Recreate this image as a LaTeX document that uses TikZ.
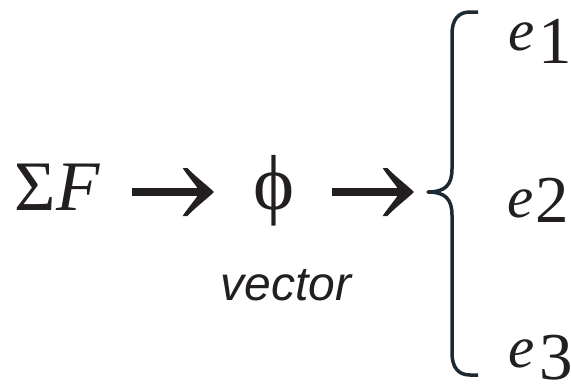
\documentclass[tikz,border=0pt]{standalone}
\usepackage{fontspec}
\setmainfont{Liberation Serif}
\newfontfamily\vecfont{Liberation Sans}
\usetikzlibrary{arrows.meta}
\definecolor{ink}{HTML}{231F20}
\definecolor{bracecol}{HTML}{1E2A33}
\pgfdeclarearrow{
  name=Swept,
  setup code={
    \pgfarrowssettipend{0pt}
    \pgfarrowssetbackend{-31.3pt}
    \pgfarrowssetlineend{-10pt}
    \pgfarrowssetvisualbackend{-10pt}
    \pgfarrowshullpoint{0pt}{0pt}
    \pgfarrowshullpoint{-31.3pt}{24pt}
    \pgfarrowshullpoint{-31.3pt}{-24pt}
  },
  drawing code={
    \pgfpathmoveto{\pgfpoint{0pt}{0pt}}
    \pgfpathcurveto{\pgfpoint{-9pt}{8.5pt}}{\pgfpoint{-18pt}{15pt}}{\pgfpoint{-26.7pt}{24pt}}
    \pgfpathlineto{\pgfpoint{-31.3pt}{24pt}}
    \pgfpathcurveto{\pgfpoint{-27pt}{17pt}}{\pgfpoint{-18pt}{7pt}}{\pgfpoint{-14pt}{0pt}}
    \pgfpathcurveto{\pgfpoint{-18pt}{-7pt}}{\pgfpoint{-27pt}{-17pt}}{\pgfpoint{-31.3pt}{-24pt}}
    \pgfpathlineto{\pgfpoint{-26.7pt}{-24pt}}
    \pgfpathcurveto{\pgfpoint{-18pt}{-15pt}}{\pgfpoint{-9pt}{-8.5pt}}{\pgfpoint{0pt}{0pt}}
    \pgfpathclose
    \pgfusepathqfill
  }
}
\tikzset{
  txt/.style={inner sep=0pt, outer sep=0pt, text=ink},
  digit/.style={txt, text depth=0pt},
  bigarrow/.style={draw=ink, fill=ink, line width=8pt, line cap=butt, -{Swept}},
  bracepath/.style={draw=bracecol, line width=3.5pt, line cap=butt, line join=round}
}
\begin{document}
\begin{tikzpicture}[x=1pt,y=-1pt]
\useasboundingbox (0,0) rectangle (571,386);
\coordinate (row) at (0,192);
% left terms
\node[txt, anchor=base west] (sf) at (15,210) {\fontsize{71}{71}\selectfont Σ\textit{F}};
\node[txt, anchor=base] (phi) at (274,209) {\fontsize{78}{78}\selectfont ϕ};
\node[txt, anchor=base] (vec) at (286,300) {\vecfont\itshape\fontsize{48}{48}\selectfont vector};
% brace
\coordinate (bt) at (428,192);
\path[bracepath] (478,12) -- (470,12) .. controls (458,12) and (452,20) .. (452,34)
  -- (452,169) .. controls (452,185) and (445,192) .. (bt)
  .. controls (445,192) and (452,199) .. (452,215)
  -- (452,353) .. controls (452,367) and (458,375) .. (470,375) -- (478,375);
% arrows
\draw[bigarrow] ([xshift=32pt]sf.east |- row) -- ([xshift=-60pt]phi.center |- row);
\draw[bigarrow] ([xshift=58pt]phi.center |- row) -- ([xshift=-14pt]bt);
% outputs
\node[txt, anchor=base] (e1) at (521.5,50) {\fontsize{59}{59}\selectfont\itshape e};
\node[digit, anchor=base] (n1) at (555,63) {\fontsize{67}{67}\selectfont 1};
\node[txt, anchor=base] (e2) at (520.5,217) {\fontsize{59}{59}\selectfont\itshape e};
\node[digit, anchor=base] (n2) at (552.5,222) {\fontsize{67}{67}\selectfont 2};
\node[txt, anchor=base] (e3) at (522,367) {\fontsize{59}{59}\selectfont\itshape e};
\node[digit, anchor=base] (n3) at (556.5,379) {\fontsize{67}{67}\selectfont 3};
\end{tikzpicture}
\end{document}
